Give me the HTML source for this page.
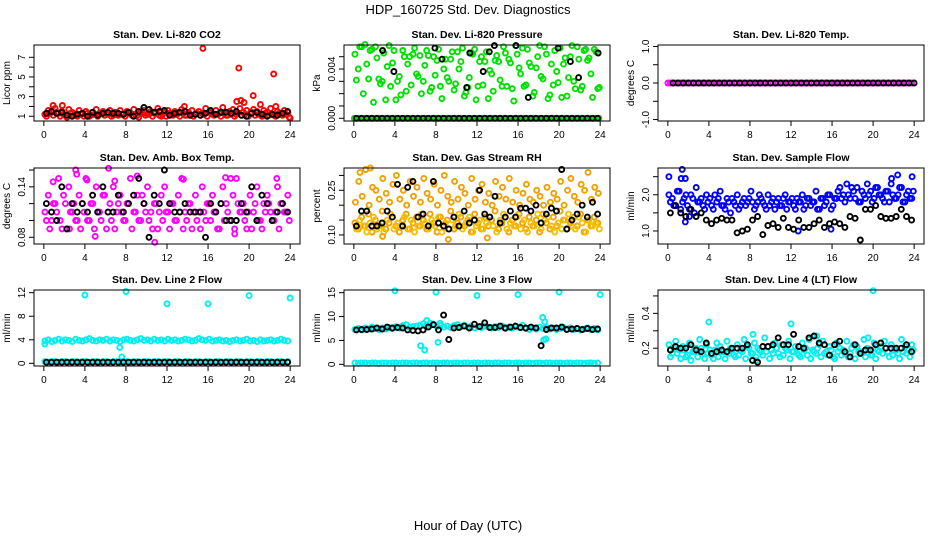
<!DOCTYPE html>
<html><head><meta charset="utf-8"><style>
body{margin:0;background:#fff;}
svg{display:block;font-family:"Liberation Sans",Arial,sans-serif;}
</style></head><body>
<svg id="chart" width="936" height="540">
<text x="468" y="14" font-size="13" text-anchor="middle">HDP_160725  Std. Dev. Diagnostics</text>
<text x="468" y="530" font-size="13" text-anchor="middle">Hour of Day (UTC)</text>
</svg>
<script>
// ---- tick labels ----
const xTicks = [0,4,8,12,16,20,24];
// ---- CO2 ----
const co2RedA = [1.2,1.6,1.4,1.8,1.3,1.5,1.1,1.7,1.4,1.2,1.6,1.3,1.5,1.0,1.4,1.7,1.2,1.5,1.3,1.6,1.1,1.4,1.6,1.2,1.5,1.3,1.7,1.1,1.4,1.6,1.2,1.5,1.3,1.8,1.0,1.4,1.6,1.2,1.5,1.3,1.7,1.1,1.4,1.6,1.2,1.5,1.3,1.8,1.4,1.2,1.6,1.3,1.9,1.1,1.5,1.7,1.2,1.8,1.4,1.6,1.3,1.7,1.5,1.2,1.6,1.4,1.8,1.1,1.5,1.3,1.6,1.4];
const co2RedB = [1.0,1.3,1.1,1.4,1.0,1.2,0.9,1.3,1.1,1.0,1.2,1.0,1.3,1.1,1.2,1.0,1.3,1.1,1.2,1.0,1.4,1.1,1.2,1.0,1.3,1.1,1.2,0.9,1.3,1.1,1.2,1.0,1.4,1.1,1.2,1.0,1.3,1.1,1.2,1.0,1.3,1.1,1.2,1.0,1.3,1.1,1.2,1.0,1.4,1.1,1.2,1.0,1.3,1.1,1.2,1.0,1.3,1.1,1.2,1.0,1.4,1.1,1.2,1.0,1.3,1.1,1.2,1.0,1.3,1.1,1.2,0.9];
const co2OutHours = [15.5,19.0,22.4,20.4,18.8,19.2,19.5,21.1,0.9,1.8,13.7,22.6,24.0];
const co2OutVals = [7.9,5.9,5.3,3.1,2.5,2.6,2.4,2.2,2.1,2.1,2.0,2.0,0.8];
const co2Black = [1.3,1.5,1.3,1.4,1.1,1.0,1.2,1.3,1.0,1.4,1.1,1.3,1.4,1.3,1.3,1.2,1.4,1.0,1.5,1.9,1.7,1.4,1.5,1.6,1.1,1.3,1.4,1.5,1.1,1.2,1.1,1.3,1.6,1.2,1.4,1.4,1.3,1.5,1.1,1.0,1.3,1.4,1.2,1.0,1.2,1.1,1.3,1.5];
// ---- Pressure (x0.001 kPa) ----
const presGreenA = [5.2,4.0,5.8,6.0,3.2,5.6,5.8,3.2,3.0,1.5,5.9,4.5,1.5,3.4,5.5,2.2,5.0,5.2,3.6,5.1,3.0,5.5,2.2,5.0,4.7,2.6,4.0,3.3,4.8,2.3,5.4,4.6,1.8,2.5,5.3,5.6,2.6,5.0,4.6,1.6,3.6,4.7,4.6,2.6,5.3,4.8,2.4,5.9,4.1,5.7,2.7,4.5,1.8,4.1,5.9,3.2,5.2,1.9,2.7,3.8,5.7,4.4,1.8,5.0,3.0,5.8,2.3,5.5,4.7,3.6,5.6,2.4];
const presGreenB = [3.1,5.8,2.0,4.4,5.5,1.3,4.9,2.8,5.3,4.2,2.6,5.5,3.0,1.9,5.0,4.4,2.7,5.7,3.4,2.0,4.3,5.1,2.5,3.5,5.6,1.6,4.8,3.0,5.4,2.8,4.0,5.7,2.1,3.3,5.2,1.5,4.6,2.7,5.4,3.9,2.2,5.1,3.1,5.8,2.6,4.5,1.4,5.2,3.6,2.6,5.6,4.2,2.1,5.0,3.4,5.8,1.6,4.4,5.5,2.9,1.7,4.9,3.3,5.9,2.4,4.8,2.6,5.6,4.9,1.7,5.4,2.5];
const presZero = [0,0,0,0,0,0,0,0,0,0,0,0,0,0,0,0,0,0,0,0,0,0,0,0,0,0,0,0,0,0,0,0,0,0,0,0,0,0,0,0,0,0,0,0,0,0,0,0,0,0,0,0,0,0,0,0,0,0,0,0,0,0,0,0,0,0,0,0,0,0,0,0];
const presBlackHours = [2.8,3.9,7.9,8.6,11.0,11.3,12.6,13.2,13.7,15.8,17.0,19.9,21.1,21.9,23.8];
const presBlackVals = [5.5,3.8,5.7,4.8,2.5,5.3,3.8,5.4,5.9,5.9,1.7,5.7,4.6,3.3,5.3];
// ---- Temp ----
const tempVals = [0,0,0,0,0,0,0,0,0,0,0,0,0,0,0,0,0,0,0,0,0,0,0,0,0,0,0,0,0,0,0,0,0,0,0,0,0,0,0,0,0,0,0,0,0,0,0,0];
// ---- Amb box ----
const ambA = [.11,.13,.10,.12,.15,.09,.12,.14,.11,.10,.13,.12,.15,.10,.12,.14,.11,.13,.09,.12,.14,.11,.13,.10,.12,.15,.11,.13,.10,.12,.14,.11,.12,.09,.13,.14,.11,.12,.10,.13,.15,.11,.12,.09,.13,.11,.14,.10,.12,.13,.11,.09,.14,.12,.10,.13,.15,.11,.12,.09,.13,.11,.14,.10,.12,.13,.11,.10,.14,.12,.11,.13];
const ambB = [.10,.09,.12,.11,.10,.13,.09,.11,.12,.10,.09,.11,.10,.12,.09,.11,.10,.13,.11,.10,.09,.12,.11,.10,.12,.09,.11,.10,.13,.11,.10,.09,.12,.11,.10,.11,.09,.12,.10,.11,.09,.10,.12,.11,.10,.09,.11,.12,.10,.11,.09,.12,.10,.11,.10,.09,.12,.11,.10,.11,.09,.12,.10,.09,.11,.12,.10,.11,.09,.12,.11,.10];
const ambOutHours = [3.1,3.2,6.3,9.1,13.6,17.7,18.2,22.7,4.2,0.9,10.8,5.0,18.6,2.5,6.9];
const ambOutVals = [.160,.155,.162,.153,.149,.151,.150,.150,.148,.146,.074,.081,.084,.090,.147];
const ambBlack = [.12,.11,.10,.14,.09,.12,.11,.12,.11,.13,.11,.14,.11,.11,.13,.11,.12,.13,.15,.12,.08,.13,.12,.16,.12,.11,.11,.12,.11,.11,.11,.08,.12,.11,.12,.10,.10,.10,.12,.11,.14,.10,.13,.12,.10,.11,.12,.11];
// ---- RH ----
const rhA = [.14,.12,.16,.13,.17,.11,.15,.13,.18,.12,.14,.16,.13,.11,.15,.17,.12,.14,.16,.13,.15,.12,.17,.14,.11,.16,.13,.15,.18,.12,.14,.16,.13,.15,.11,.17,.14,.12,.16,.13,.15,.18,.12,.14,.16,.11,.15,.13,.17,.14,.12,.16,.13,.15,.11,.17,.14,.12,.16,.13,.18,.15,.12,.14,.16,.13,.17,.11,.15,.13,.16,.14];
const rhB = [.12,.15,.13,.11,.14,.16,.12,.13,.11,.15,.17,.12,.14,.13,.16,.12,.15,.11,.13,.17,.14,.12,.15,.13,.16,.11,.14,.12,.15,.13,.17,.12,.14,.16,.11,.13,.15,.12,.14,.16,.13,.11,.15,.17,.12,.14,.13,.16,.12,.15,.11,.14,.13,.17,.12,.15,.16,.13,.11,.14,.12,.15,.17,.13,.12,.16,.14,.11,.15,.13,.14,.12];
const rhHigh = [.21,.28,.23,.32,.20,.26,.25,.22,.29,.24,.21,.27,.30,.22,.25,.20,.28,.23,.26,.21,.29,.24,.22,.27,.20,.25,.30,.23,.21,.28,.22,.26,.24,.20,.29,.22,.25,.27,.21,.24,.20,.28,.23,.26,.22,.29,.21,.25,.20,.24,.27,.22,.21,.25,.23,.20,.26,.21,.24,.22,.28,.20,.25,.29,.23,.21,.27,.25,.31,.22,.26,.24];
const rhOutHours = [9.2,13.0,2.8,0.6,1.6];
const rhOutVals = [.085,.090,.095,.31,.325];
const rhBlack = [.13,.18,.18,.13,.13,.14,.18,.16,.27,.13,.26,.28,.16,.17,.13,.28,.14,.13,.12,.16,.13,.18,.14,.15,.25,.17,.16,.23,.14,.16,.18,.16,.19,.19,.18,.20,.14,.17,.19,.18,.32,.12,.15,.17,.20,.16,.21,.17];
// ---- Sample flow ----
const flowA = [2.0,1.9,1.7,2.1,1.8,2.0,1.6,1.9,2.2,1.8,1.7,2.0,1.9,1.6,1.8,2.1,1.7,1.9,1.5,1.8,2.0,1.7,1.9,1.8,2.1,1.6,1.8,1.9,1.7,2.0,1.8,1.6,1.9,1.7,2.0,1.8,1.9,1.6,1.8,2.0,1.7,1.9,1.8,2.1,1.6,1.9,1.8,2.0,1.7,1.9,2.2,2.0,2.3,1.9,2.1,2.2,1.8,2.0,2.3,2.1,1.9,2.2,2.0,1.8,2.1,2.3,1.9,2.0,2.2,1.8,2.1,1.9];
const flowB = [1.8,1.7,2.1,1.6,1.9,1.7,2.0,1.5,1.8,1.9,1.6,1.8,1.7,2.0,1.9,1.7,1.6,1.8,1.9,1.7,1.6,1.8,1.7,1.9,1.8,1.7,2.0,1.8,1.6,1.7,1.9,1.8,1.7,1.9,1.6,1.8,1.7,1.9,1.8,1.6,1.9,1.7,1.8,1.6,1.9,1.7,2.0,1.6,1.9,2.1,1.9,1.8,2.0,2.2,1.9,1.8,2.1,1.9,2.0,1.8,2.2,2.0,1.9,2.1,1.8,2.0,1.9,2.2,1.8,2.0,1.9,2.1];
const flowOutHours = [0.1,1.4,1.3,1.7,21.8,22.4,23.8,1.7,12.7,15.9,2.1];
const flowOutVals = [2.5,2.7,2.45,2.45,2.45,2.55,2.5,1.25,1.0,1.05,1.4];
const flowBlack = [1.5,1.7,1.5,1.4,1.6,1.4,1.5,1.3,1.2,1.3,1.35,1.3,1.3,0.95,1.0,1.05,1.3,1.4,0.9,1.15,1.2,1.1,1.35,1.1,1.05,1.3,1.1,1.1,1.2,1.3,1.1,1.2,1.25,1.2,1.1,1.4,1.35,0.75,1.6,1.6,1.7,1.4,1.35,1.35,1.4,1.6,1.4,1.3];
// ---- Line 2 ----
const l2Band = [3.8,4.0,3.7,3.9,4.1,3.8,4.0,3.9,3.7,4.1,3.9,3.8,4.0,4.2,3.9,3.8,4.0,3.9,4.1,3.8,4.0,3.9,3.7,4.0,4.1,3.9,3.8,4.0,4.2,3.9,4.0,3.8,4.1,3.9,4.0,3.8,4.1,3.9,4.0,3.8,3.9,4.1,4.0,3.8,3.9,4.2,4.0,3.9,4.1,3.8,3.9,4.0,3.8,3.9,3.7,3.9,4.0,3.8,3.9,4.1,3.8,3.9,3.7,4.0,3.8,3.9,4.0,3.8,3.9,4.1,3.9,3.8];
const l2Low = [0.3,0.2,0.3,0.3,0.2,0.3,0.3,0.2,0.3,0.3,0.2,0.3,0.3,0.2,0.3,0.3,0.2,0.3,0.3,0.2,0.3,0.3,0.2,0.3,0.3,0.2,0.3,0.3,0.2,0.3,0.3,0.2,0.3,0.3,0.2,0.3,0.3,0.2,0.3,0.3,0.2,0.3,0.3,0.2,0.3,0.3,0.2,0.3,0.3,0.2,0.3,0.3,0.2,0.3,0.3,0.2,0.3,0.3,0.2,0.3,0.3,0.2,0.3,0.3,0.2,0.3,0.3,0.2,0.3,0.3,0.2,0.3];
const l2OutHours = [4,8,12,16,20,24,0.1,7.4,7.6];
const l2OutVals = [11.6,12.2,10.1,10.1,11.5,11.1,3.3,2.7,1.1];
const l2Black = [0.2,0.2,0.2,0.2,0.2,0.2,0.2,0.2,0.2,0.2,0.2,0.2,0.2,0.2,0.2,0.2,0.2,0.2,0.2,0.2,0.2,0.2,0.2,0.2,0.2,0.2,0.2,0.2,0.2,0.2,0.2,0.2,0.2,0.2,0.2,0.2,0.2,0.2,0.2,0.2,0.2,0.2,0.2,0.2,0.2,0.2,0.2,0.2];
// ---- Line 3 ----
const l3Band = [7.3,7.5,7.2,7.6,7.4,7.8,7.5,7.3,7.6,7.4,7.7,7.5,7.9,7.6,8.1,8.3,7.7,7.9,8.0,8.2,8.5,8.3,8.6,8.4,7.9,8.1,7.8,8.0,7.7,8.1,8.3,7.9,8.2,7.8,8.0,7.6,7.9,7.7,8.0,7.8,7.6,7.9,7.7,8.0,7.5,7.8,7.6,7.9,7.7,8.2,7.5,7.3,7.6,7.4,7.8,7.5,7.7,7.4,7.6,7.3,7.5,7.7,7.4,7.6,7.3,7.5,7.2,7.4,7.6,7.3,7.5,7.2];
const l3Low = l2Low;
const l3OutHours = [4,8,12,16,20,24,6.5,6.9,7.1,7.3,8.2,8.4,18.4,18.5,18.7,18.6];
const l3OutVals = [15.4,15.1,14.4,14.6,15.1,14.6,3.9,3.0,9.2,8.0,4.6,8.6,9.8,5.1,5.3,8.9];
const l3Black = [7.2,7.3,7.3,7.4,7.6,7.4,7.8,7.6,7.7,7.6,7.2,7.1,7.0,7.2,7.8,8.3,7.2,10.3,5.2,7.6,7.7,8.0,7.6,8.4,7.9,8.7,7.7,7.7,8.0,7.6,7.8,8.0,7.7,7.6,7.8,7.6,3.9,7.3,7.6,7.6,7.8,7.3,7.4,7.5,7.3,7.5,7.3,7.4];
// ---- Line 4 ----
const l4A = [.22,.17,.24,.19,.21,.15,.23,.18,.20,.25,.17,.22,.19,.14,.23,.21,.18,.24,.20,.16,.22,.19,.25,.21,.17,.23,.20,.18,.26,.21,.19,.23,.17,.22,.20,.24,.18,.21,.16,.23,.20,.25,.19,.17,.22,.24,.18,.21,.15,.23,.20,.19,.24,.17,.22,.21,.18,.25,.20,.16,.23,.19,.21,.24,.18,.22,.20,.17,.25,.21,.19,.22];
const l4B = [.15,.20,.17,.14,.19,.16,.13,.18,.15,.20,.14,.17,.16,.19,.15,.18,.14,.17,.19,.15,.16,.18,.14,.20,.17,.15,.19,.16,.18,.14,.17,.20,.15,.16,.19,.14,.18,.17,.15,.19,.16,.14,.18,.20,.15,.17,.16,.19,.14,.18,.16,.17,.15,.20,.14,.18,.17,.15,.19,.16,.14,.18,.17,.20,.15,.16,.19,.14,.18,.17,.15,.19];
const l4OutHours = [4,12,20,19.5,14.5,8.3,8.6];
const l4OutVals = [.35,.34,.53,.26,.27,.28,.13];
const l4Black = [.19,.21,.20,.20,.22,.19,.18,.23,.17,.18,.19,.18,.20,.20,.20,.22,.13,.12,.21,.21,.22,.26,.22,.22,.28,.21,.20,.26,.27,.23,.22,.16,.22,.24,.18,.15,.22,.17,.19,.19,.22,.23,.20,.20,.20,.20,.22,.18];

const NS = 'http://www.w3.org/2000/svg';
const svg = document.getElementById('chart');
function mk(tag, attrs, parent){const e=document.createElementNS(NS,tag);for(const k in attrs)e.setAttribute(k,attrs[k]);(parent||svg).appendChild(e);return e;}
function seq(vals,start,step){return vals.map((v,i)=>[start+i*step,v]);}
function pairs(h,v){return h.map((x,i)=>[x,v[i]]);}

const cols=[34,344,658], rows=[45,168,290], W=266, H=76;
const CY='#00f0f0';
const panels=[
 {name:'co2',title:'Stan. Dev. Li-820 CO2',yl:'Licor ppm',c:0,r:0,ylim:[0.52,8.25],ticks:[1,2,3,4,5,6,7],labs:[1,3,5,7],fmt:v=>String(v),
  series:[['#ff0000',seq(co2RedA,0.1,1/3)],['#ff0000',seq(co2RedB,0.25,1/3)],['#ff0000',pairs(co2OutHours,co2OutVals)],['#000',seq(co2Black,0.25,0.5)]]},
 {name:'pressure',title:'Stan. Dev. Li-820 Pressure',yl:'kPa',c:1,r:0,ylim:[-0.22,5.95],ticks:[0,1,2,3,4,5],labs:[0,4],fmt:v=>(v/1000).toFixed(3),
  series:[['#00e000',seq(presGreenA,0.1,1/3)],['#00e000',seq(presGreenB,0.25,1/3)],['#00e000',seq(presZero,0.05,1/3)],['#00e000',seq(presZero,0.2,1/3)],['#000',seq(tempVals,0.25,0.5)],['#000',pairs(presBlackHours,presBlackVals)]]},
 {name:'temp',title:'Stan. Dev. Li-820 Temp.',yl:'degrees C',c:2,r:0,ylim:[-1.04,1.04],ticks:[-1,-0.5,0,0.5,1],labs:[-1,0,1],fmt:v=>v.toFixed(1),
  series:[['#ff00ff',seq(tempVals,0.0,0.5)],['#ff00ff',seq(tempVals,0.25,0.5)],['#000',seq(tempVals,0.5,0.5)]]},
 {name:'amb-box-temp',title:'Stan. Dev. Amb. Box Temp.',yl:'degrees C',c:0,r:1,ylim:[0.072,0.1624],ticks:[0.08,0.10,0.12,0.14,0.16],labs:[0.08,0.14],fmt:v=>v.toFixed(2),
  series:[['#ff00ff',seq(ambA,0.1,1/3)],['#ff00ff',seq(ambB,0.25,1/3)],['#ff00ff',pairs(ambOutHours,ambOutVals)],['#000',seq(ambBlack,0.25,0.5)]]},
 {name:'gas-rh',title:'Stan. Dev. Gas Stream RH',yl:'percent',c:1,r:1,ylim:[0.0696,0.3249],ticks:[0.10,0.15,0.20,0.25,0.30],labs:[0.10,0.25],fmt:v=>v.toFixed(2),
  series:[['#f0a000',seq(rhA,0.1,1/3)],['#f5c000',seq(rhB,0.25,1/3)],['#f0a000',seq(rhHigh,0.15,1/3)],['#f0a000',pairs(rhOutHours,rhOutVals)],['#000',seq(rhBlack,0.25,0.5)]]},
 {name:'sample-flow',title:'Stan. Dev. Sample Flow',yl:'ml/min',c:2,r:1,ylim:[0.64,2.74],ticks:[1.0,1.5,2.0,2.5],labs:[1.0,2.0],fmt:v=>v.toFixed(1),
  series:[['#0000ff',seq(flowA,0.1,1/3)],['#0000ff',seq(flowB,0.25,1/3)],['#0000ff',pairs(flowOutHours,flowOutVals)],['#000',seq(flowBlack,0.25,0.5)]]},
 {name:'line2-flow',title:'Stan. Dev. Line 2 Flow',yl:'ml/min',c:0,r:2,ylim:[-0.45,12.45],ticks:[0,4,8,12],labs:[0,4,8,12],fmt:v=>String(v),
  series:[[CY,seq(l2Band,0.1,1/3)],[CY,seq(l2Low,0.1,1/3)],[CY,pairs(l2OutHours,l2OutVals)],['#000',seq(l2Black,0.25,0.5)]]},
 {name:'line3-flow',title:'Stan. Dev. Line 3 Flow',yl:'ml/min',c:1,r:2,ylim:[-0.35,15.56],ticks:[0,5,10,15],labs:[0,5,10,15],fmt:v=>String(v),
  series:[[CY,seq(l3Band,0.1,1/3)],[CY,seq(l3Low,0.1,1/3)],[CY,pairs(l3OutHours,l3OutVals)],['#000',seq(l3Black,0.25,0.5)]]},
 {name:'line4-flow',title:'Stan. Dev. Line 4 (LT) Flow',yl:'ml/min',c:2,r:2,ylim:[0.098,0.534],ticks:[0.2,0.3,0.4,0.5],labs:[0.2,0.4],fmt:v=>v.toFixed(1),
  series:[[CY,seq(l4A,0.1,1/3)],[CY,seq(l4B,0.25,1/3)],[CY,pairs(l4OutHours,l4OutVals)],['#000',seq(l4Black,0.25,0.5)]]}
];

panels.forEach(p=>{
  const L=cols[p.c], T=rows[p.r];
  const g=mk('g',{});
  
  
  const xs=h=>L+W*(h+0.96)/25.92;
  const ys=v=>T+H-H*(v-p.ylim[0])/(p.ylim[1]-p.ylim[0]);
  const t=mk('text',{x:L+W/2,y:T-7,'font-size':'10.5','font-weight':'bold','text-anchor':'middle'},g);
  t.textContent=p.title;
  
  
  const yl=mk('text',{x:0,y:0,'font-size':'10','text-anchor':'middle',transform:`translate(${L-24},${T+H/2}) rotate(-90)`},g);
  yl.textContent=p.yl;
  
  
  const pg=mk('g',{fill:'none','stroke-width':'1.9'},g);
  
  
  p.series.forEach(([col,pts])=>{
    pts.forEach(([h,v])=>{
      const c=mk('circle',{cx:xs(h).toFixed(1),cy:ys(v).toFixed(1),r:'2.5',stroke:col},pg);
      
      
    });
  });
  const b=mk('rect',{x:L,y:T,width:W,height:H,fill:'none',stroke:'#000','stroke-width':'1'},g);
  
  
  mk('line',{x1:xs(0),x2:xs(24),y1:T+H,y2:T+H,stroke:'#000'},g);
  xTicks.forEach(h=>{
    mk('line',{x1:xs(h),x2:xs(h),y1:T+H,y2:T+H+5,stroke:'#000'},g);
    const tl=mk('text',{x:xs(h),y:T+H+17,'font-size':'10','text-anchor':'middle'},g);
    tl.textContent=h;
    
    
  });
  p.ticks.forEach(v=>{
    mk('line',{x1:L-5,x2:L,y1:ys(v),y2:ys(v),stroke:'#000'},g);
  });
  p.labs.forEach(v=>{
    const tl=mk('text',{x:0,y:0,'font-size':'10','text-anchor':'middle',transform:`translate(${L-9},${ys(v)}) rotate(-90)`},g);
    tl.textContent=p.fmt(v);
    
    
  });
});
</script>
</body></html>
